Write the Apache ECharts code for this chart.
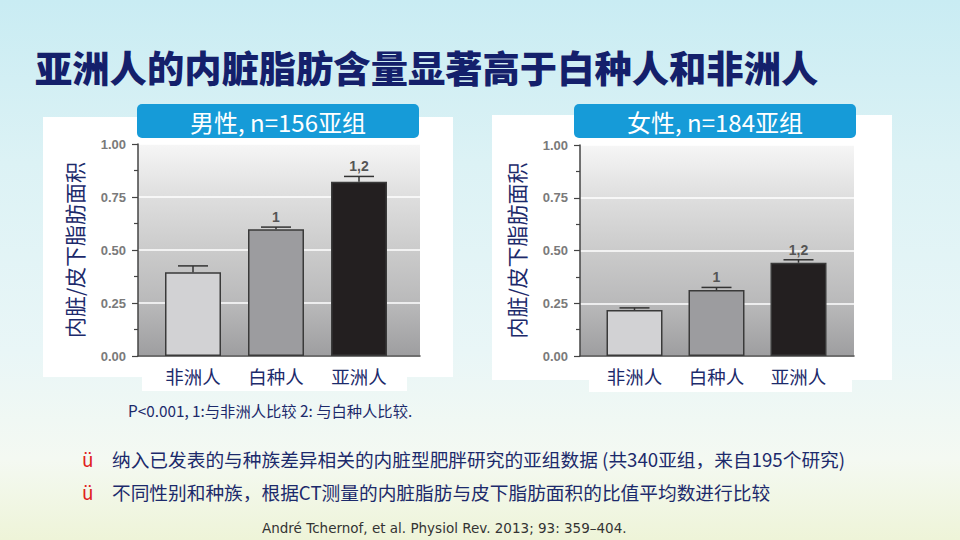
<!DOCTYPE html>
<html>
<head>
<meta charset="utf-8">
<script src="https://cdn.jsdelivr.net/npm/echarts@6/dist/echarts.min.js"></script>
<style>
  html, body { margin: 0; padding: 0; }
  #main { width: 960px; height: 540px; }
</style>
</head>
<body>
<div id="main"></div>
<script>
// 数据
const categories = ['非洲人', '白种人', '亚洲人'];
const maleMean = [0.395, 0.598, 0.822];
const maleErr = [0.030, 0.010, 0.025];
const femaleMean = [0.218, 0.313, 0.442];
const femaleErr = [0.010, 0.012, 0.014];
const sigLabels = ['', '1', '1,2'];
const yMin = 0;
const yMax = 1;
const yStep = 0.25;

// 颜色
const barColors = ['#d2d2d4', '#9c9c9f', '#231f20'];
const navy = '#1c2a6b';
const cjkFont = '"Noto Sans CJK SC", sans-serif';

const chart = echarts.init(document.getElementById('main'), null, { renderer: 'svg' });

// 灰色渐变的绘图区
const plotBg = {
    type: 'linear', x: 0, y: 0, x2: 0, y2: 1,
    colorStops: [
        { offset: 0, color: '#f6f6f6' },
        { offset: 0.25, color: '#dedede' },
        { offset: 0.5, color: '#cbcbcb' },
        { offset: 0.75, color: '#b9b9ba' },
        { offset: 1, color: '#9e9ea0' }
    ]
};

function bgYAxis(gridIndex) {
    return {
        gridIndex: gridIndex,
        type: 'value',
        min: yMin,
        max: yMax,
        interval: yStep,
        name: '内脏/皮下脂肪面积',
        nameLocation: 'middle',
        nameRotate: 90,
        nameGap: 54,
        nameTextStyle: { fontSize: 21, color: navy, fontFamily: cjkFont },
        axisLine: { show: true, lineStyle: { color: '#444', width: 1.5 } },
        axisTick: { show: true, length: 6, lineStyle: { color: '#444', width: 1.2 } },
        minorTick: { show: true, splitNumber: 2, length: 4, lineStyle: { color: '#444', width: 1.2 } },
        axisLabel: {
            margin: 12,
            color: '#7a7a7a',
            fontWeight: 'bold',
            fontSize: 13,
            fontFamily: 'Arial, "Liberation Sans", sans-serif',
            formatter: v => v.toFixed(2)
        },
        splitLine: { show: true, lineStyle: { color: '#ffffff', width: 1.5 } }
    };
}

function bgXAxis(gridIndex) {
    return {
        gridIndex: gridIndex,
        type: 'value',
        min: 0,
        max: 1,
        axisLine: { show: true, onZero: false, lineStyle: { color: '#444', width: 1.5 } },
        axisTick: { show: false },
        axisLabel: { show: false },
        splitLine: { show: false }
    };
}

function barXAxis(gridIndex) {
    return {
        gridIndex: gridIndex,
        type: 'category',
        data: categories,
        axisLine: { show: false },
        axisTick: { show: false },
        axisLabel: { margin: 11, fontSize: 18.5, color: navy, fontFamily: cjkFont }
    };
}

function barYAxis(gridIndex) {
    return { gridIndex: gridIndex, type: 'value', min: yMin, max: yMax, show: false };
}

function barSeries(axisIndex, means) {
    return {
        type: 'bar',
        xAxisIndex: axisIndex,
        yAxisIndex: axisIndex,
        barWidth: 56,
        data: means.map((v, i) => ({
            value: v,
            itemStyle: { color: barColors[i], borderColor: '#3a3a3a', borderWidth: 1.5 }
        }))
    };
}

// 误差线和显著性标记
function errorSeries(axisIndex, means, errs) {
    return {
        type: 'custom',
        xAxisIndex: axisIndex,
        yAxisIndex: axisIndex,
        z: 3,
        data: means.map((v, i) => [i, v, v + errs[i]]),
        renderItem: function (params, api) {
            const p0 = api.coord([api.value(0), api.value(1)]);
            const p1 = api.coord([api.value(0), api.value(2)]);
            const style = { stroke: '#333', lineWidth: 1.5 };
            return {
                type: 'group',
                children: [
                    { type: 'line', shape: { x1: p0[0], y1: p0[1], x2: p1[0], y2: p1[1] }, style: style },
                    { type: 'line', shape: { x1: p1[0] - 15, y1: p1[1], x2: p1[0] + 15, y2: p1[1] }, style: style },
                    {
                        type: 'text',
                        x: p1[0], y: p1[1] - 10,
                        style: {
                            text: sigLabels[params.dataIndex],
                            fill: '#555',
                            font: 'bold 14px Arial, "Liberation Sans", sans-serif',
                            align: 'center',
                            verticalAlign: 'middle'
                        }
                    }
                ]
            };
        }
    };
}

function textEl(text, x, y, size, color, align) {
    return {
        type: 'text', x: x, y: y, z: 20,
        style: {
            text: text,
            fill: color,
            font: size + 'px ' + cjkFont,
            align: align || 'left',
            verticalAlign: 'middle'
        }
    };
}

chart.setOption({
    backgroundColor: {
        type: 'linear', x: 0, y: 0, x2: 0, y2: 1,
        colorStops: [
            { offset: 0, color: '#c9ecf3' },
            { offset: 0.3, color: '#dcf2f5' },
            { offset: 0.65, color: '#e9f6f7' },
            { offset: 0.85, color: '#f4f9f2' },
            { offset: 1, color: '#eef4d8' }
        ]
    },
    title: {
        text: '亚洲人的内脏脂肪含量显著高于白种人和非洲人',
        left: 30,
        top: 43,
        textStyle: { fontSize: 37.3, fontWeight: 900, color: '#14206b', fontFamily: cjkFont }
    },
    grid: [
        { left: 138, top: 144, width: 282, height: 212, show: true, backgroundColor: plotBg, borderWidth: 0 },
        { left: 151.5, top: 144, width: 249, height: 212 },
        { left: 580, top: 145, width: 274, height: 211, show: true, backgroundColor: plotBg, borderWidth: 0 },
        { left: 593.5, top: 145, width: 246, height: 211 }
    ],
    xAxis: [bgXAxis(0), barXAxis(1), bgXAxis(2), barXAxis(3)],
    yAxis: [bgYAxis(0), barYAxis(1), bgYAxis(2), barYAxis(3)],
    series: [
        barSeries(1, maleMean),
        errorSeries(1, maleMean, maleErr),
        barSeries(3, femaleMean),
        errorSeries(3, femaleMean, femaleErr)
    ],
    graphic: [
        // 白色面板
        { type: 'rect', z: -10, shape: { x: 43, y: 117, width: 410, height: 260 }, style: { fill: '#ffffff' } },
        { type: 'rect', z: -10, shape: { x: 142, y: 360, width: 265, height: 31 }, style: { fill: '#ffffff' } },
        { type: 'rect', z: -10, shape: { x: 492, y: 115, width: 400, height: 265 }, style: { fill: '#ffffff' } },
        { type: 'rect', z: -10, shape: { x: 589, y: 360, width: 263, height: 32 }, style: { fill: '#ffffff' } },
        // 蓝色标题框
        { type: 'rect', z: 5, shape: { x: 137, y: 104, width: 282, height: 34, r: 5 }, style: { fill: '#169bd8' } },
        { type: 'rect', z: 5, shape: { x: 574, y: 104, width: 282, height: 34, r: 5 }, style: { fill: '#169bd8' } },
        textEl('男性, n=156亚组', 278, 121, 24, '#ffffff', 'center'),
        textEl('女性, n=184亚组', 715, 121, 24, '#ffffff', 'center'),
        // 注释
        textEl('P<0.001, 1:与非洲人比较 2: 与白种人比较.', 128, 410, 15.3, navy),
        textEl('ü', 82, 458, 19, '#e0201c'),
        textEl('纳入已发表的与种族差异相关的内脏型肥胖研究的亚组数据 (共340亚组，来自195个研究)', 112, 458, 18.7, navy),
        textEl('ü', 82, 491, 19, '#e0201c'),
        textEl('不同性别和种族，根据CT测量的内脏脂肪与皮下脂肪面积的比值平均数进行比较', 112, 491, 18.7, navy),
        {
            type: 'text', x: 262, y: 528, z: 20,
            style: {
                text: 'André Tchernof, et al. Physiol Rev. 2013; 93: 359–404.',
                fill: '#333',
                font: '13.5px "DejaVu Sans", sans-serif',
                verticalAlign: 'middle'
            }
        }
    ]
});

window.addEventListener('resize', function () {
    chart.resize();
});
</script>
</body>
</html>
